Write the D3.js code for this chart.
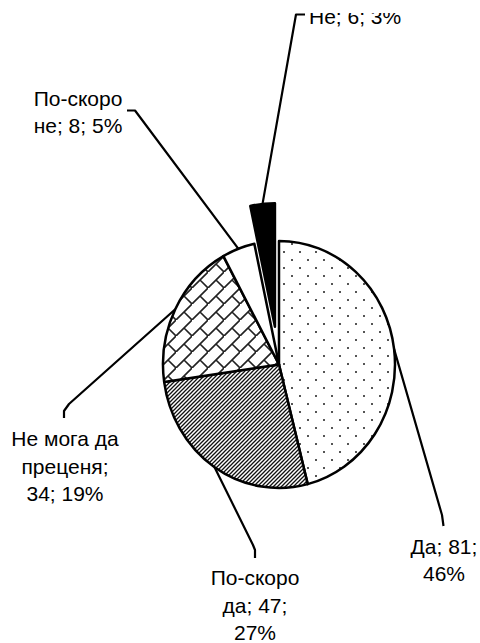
<!DOCTYPE html>
<html><head><meta charset="utf-8">
<script src="https://cdn.jsdelivr.net/npm/d3@7"></script>
<style>body{margin:0;background:#fff}svg{display:block}</style>
</head><body>
<svg id="c" width="480" height="643"></svg>
<script>
// ---- data ----
const categories = ["Да", "По-скоро да", "Не мога да преценя", "По-скоро не", "Не"];
const values = [81, 47, 34, 8, 6];
const percentLabels = ["46%", "27%", "19%", "5%", "3%"];
const labelLines = [
  ["Да; 81;", "46%"],
  ["По-скоро", "да; 47;", "27%"],
  ["Не мога да", "преценя;", "34; 19%"],
  ["По-скоро", "не; 8; 5%"],
  ["Не; 6; 3%"]
];
const fills = ["url(#dots)", "url(#stripes)", "url(#brick)", "#fff", "#000"];

// ---- layout ----
const W = 480, H = 643;
const cx = 279, cy = 364.5, rx = 116, ry = 123.5;
const explode = [0, 0, 0, 0, 38];
const fontSize = 21, lineH = 27.5;
// label anchor: x, first baseline, anchor
const labelPos = [
  {x: 444, y: 553.5, a: "middle"},
  {x: 255, y: 585, a: "middle"},
  {x: 65, y: 446, a: "middle"},
  {x: 78, y: 105.5, a: "middle"},
  {x: 309, y: 24, a: "start"}
];
// leader waypoints after the point on the slice edge
const leaderPts = [
  [[442, 515], [443.5, 526]],
  [[253, 545], [255, 550], [255, 558]],
  [[69, 404], [64, 411], [64, 418]],
  [[135, 110.5], [127, 110.5]],
  [[296, 14.5], [305, 14.5]]
];

const svg = d3.select("#c");
svg.append("rect").attr("width", W).attr("height", H).attr("fill", "#fff");
const defs = svg.append("defs");
defs.append("clipPath").attr("id", "clip").append("rect")
  .attr("x", 0).attr("y", 13).attr("width", W).attr("height", H - 13);

// patterns
const pd = defs.append("pattern").attr("id", "dots").attr("patternUnits", "userSpaceOnUse")
  .attr("width", 16).attr("height", 16);
pd.append("rect").attr("width", 16).attr("height", 16).attr("fill", "#fff");
pd.append("rect").attr("x", 3).attr("y", 3).attr("width", 2).attr("height", 2).attr("fill", "#555");
pd.append("rect").attr("x", 11).attr("y", 11).attr("width", 2).attr("height", 2).attr("fill", "#555");

const ps = defs.append("pattern").attr("id", "stripes").attr("patternUnits", "userSpaceOnUse")
  .attr("width", 4).attr("height", 4);
ps.append("rect").attr("width", 4).attr("height", 4).attr("fill", "#fff");
ps.append("path").attr("d", "M-1,1 L1,-1 M0,4 L4,0 M3,5 L5,3")
  .attr("stroke", "#111").attr("stroke-width", 1.3);

const pb = defs.append("pattern").attr("id", "brick").attr("patternUnits", "userSpaceOnUse")
  .attr("width", 16).attr("height", 16);
pb.append("rect").attr("width", 16).attr("height", 16).attr("fill", "#fff");
pb.append("path").attr("d", "M-2,18 L18,-2 M8,8 L18,18")
  .attr("stroke", "#222").attr("stroke-width", 1.6).attr("fill", "none");

const g = svg.append("g").attr("clip-path", "url(#clip)");

const pie = d3.pie().sort(null).value(d => d)(values);
const pt = (a, ox, oy) => [cx + ox + rx * Math.sin(a), cy + oy - ry * Math.cos(a)];

pie.forEach((d, i) => {
  const mid = (d.startAngle + d.endAngle) / 2;
  const ox = explode[i] * Math.sin(mid), oy = -explode[i] * Math.cos(mid);
  const p0 = pt(d.startAngle, ox, oy), p1 = pt(d.endAngle, ox, oy);
  const large = d.endAngle - d.startAngle > Math.PI ? 1 : 0;
  const path = d3.path();
  path.moveTo(cx + ox, cy + oy);
  path.lineTo(p0[0], p0[1]);
  const dstr = path.toString() + `A${rx},${ry} 0 ${large} 1 ${p1[0]},${p1[1]}Z`;
  g.append("path").attr("d", dstr).attr("fill", fills[i])
    .attr("stroke", "#000").attr("stroke-width", 2.5).attr("stroke-linejoin", "round");
});

// leaders
pie.forEach((d, i) => {
  const mid = (d.startAngle + d.endAngle) / 2;
  const ox = explode[i] * Math.sin(mid), oy = -explode[i] * Math.cos(mid);
  const pts = [pt(mid, ox, oy)].concat(leaderPts[i]);
  g.append("path").attr("d", d3.line()(pts)).attr("fill", "none")
    .attr("stroke", "#000").attr("stroke-width", 2.2).attr("stroke-linejoin", "round");
});

// labels
labelLines.forEach((lines, i) => {
  const t = g.append("text").attr("font-family", "'Liberation Sans', Arial, sans-serif")
    .attr("font-size", fontSize).attr("fill", "#000").attr("text-anchor", labelPos[i].a);
  lines.forEach((s, j) => {
    t.append("tspan").attr("x", labelPos[i].x).attr("y", labelPos[i].y + j * lineH).text(s);
  });
});
</script>
</body></html>
